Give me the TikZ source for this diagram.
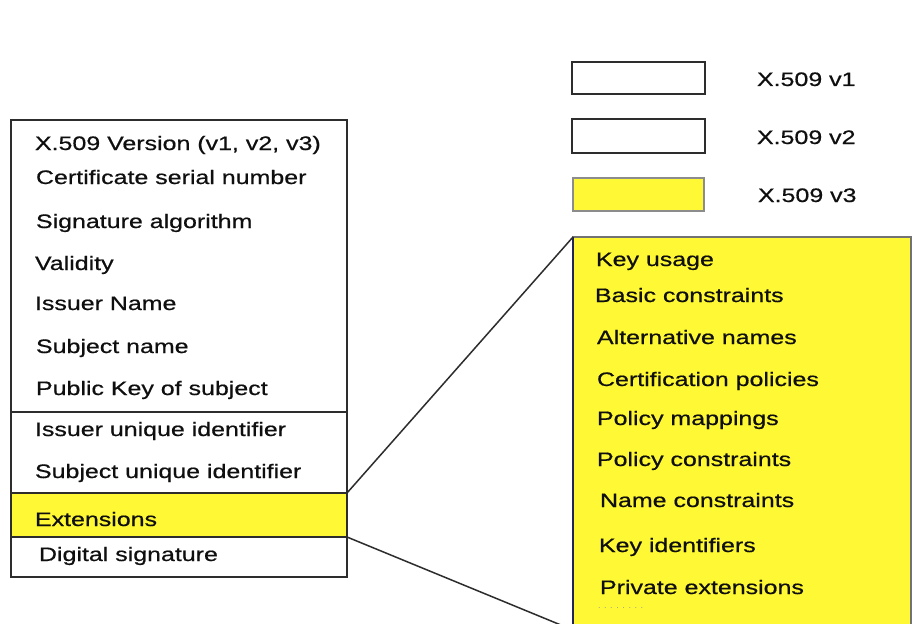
\documentclass[tikz,border=0pt]{standalone}
\usepackage{fontspec}
\setmainfont{Liberation Sans}[FakeStretch=1.28,FakeBold=0.6]
\newfontfamily\dotfont{Liberation Sans}[LetterSpace=40]
\definecolor{hlyellow}{RGB}{255,248,52}
\definecolor{edgegray}{RGB}{45,45,45}
\definecolor{txt}{RGB}{15,15,15}
\begin{document}
\begin{tikzpicture}[x=1pt,y=-1pt,
  every node/.style={inner sep=0pt,outer sep=0pt},
  field/.style={anchor=base west,text=txt,font=\fontsize{19.5}{20}\selectfont},
  part/.style={draw=edgegray,line width=1.7pt,anchor=north west},
  link/.style={draw=edgegray,line width=1.5pt}]
\useasboundingbox[fill=white] (0,0) rectangle (917,623);

% left certificate box
\node[part,fill=white,minimum width=336pt,minimum height=457pt] (cert) at (11,120) {};
\node[part,fill=white,minimum width=336pt,minimum height=81pt] (v2part) at (11,412) {};
\node[part,fill=hlyellow,minimum width=336pt,minimum height=44pt] (ext) at (11,493) {};

\node[field] (f1) at (35,150) {X.509 Version (v1, v2, v3)};
\node[field] (f2) at (36,184) {Certificate serial number};
\node[field] (f3) at (36,228) {Signature algorithm};
\node[field] (f4) at (35,270) {Validity};
\node[field] (f5) at (35,310) {Issuer Name};
\node[field] (f6) at (36,353) {Subject name};
\node[field] (f7) at (36,395) {Public Key of subject};
\node[field] (f8) at (35,436) {Issuer unique identifier};
\node[field] (f9) at (35,478) {Subject unique identifier};
\node[field] (f10) at (35,526) {Extensions};
\node[field] (f11) at (39,561) {Digital signature};

% legend
\node[part,fill=white,minimum width=133pt,minimum height=32pt] (lg1) at (572,62) {};
\node[part,fill=white,minimum width=133pt,minimum height=34pt] (lg2) at (572,119) {};
\node[part,draw=black!45,fill=hlyellow,minimum width=131pt,minimum height=33pt] (lg3) at (573,178) {};
\node[field] (l1) at (757,86) {X.509 v1};
\node[field] (l2) at (757,144) {X.509 v2};
\node[field] (l3) at (758,202) {X.509 v3};

% extensions detail box
\node[part,draw=black!55,fill=hlyellow,minimum width=338pt,minimum height=393pt] (extbox) at (573,237) {};
\draw[edgegray!80!blue,line width=1.7pt] (extbox.north west) -- (extbox.south west);

\node[field] (e1) at (596,266) {Key usage};
\node[field] (e2) at (595,302) {Basic constraints};
\node[field] (e3) at (597,344) {Alternative names};
\node[field] (e4) at (597,386) {Certification policies};
\node[field] (e5) at (597,425) {Policy mappings};
\node[field] (e6) at (597,466) {Policy constraints};
\node[field] (e7) at (600,507) {Name constraints};
\node[field] (e8) at (599,552) {Key identifiers};
\node[field] (e9) at (600,594) {Private extensions};
\node[anchor=base west,text=black!40,font=\dotfont\fontsize{9}{9}\selectfont] (e10) at (598,608) {........};

% connectors
\draw[link] (ext.north east) -- (extbox.north west);
\draw[link] (ext.south east) -- (extbox.south west);
\end{tikzpicture}
\end{document}
